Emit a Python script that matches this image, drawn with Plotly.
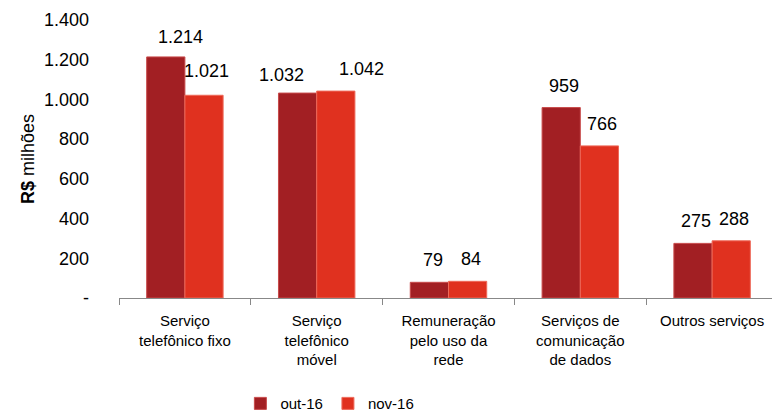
import plotly.graph_objects as go

categories = ["Serviço<br>telefônico fixo", "Serviço<br>telefônico<br>móvel",
              "Remuneração<br>pelo uso da<br>rede", "Serviços de<br>comunicação<br>de dados",
              "Outros serviços"]
out16 = [1214, 1032, 79, 959, 275]
nov16 = [1021, 1042, 84, 766, 288]
ytick_vals = [0, 200, 400, 600, 800, 1000, 1200, 1400]
ytick_text = ["-", "200", "400", "600", "800", "1.000", "1.200", "1.400"]

# label nudges (pixels) mimicking the reference's hand-placed data labels
out_dx = [15, -16, 3, 3, 3]
out_dy = [8, 6, 10, 10, 10]
nov_dx = [3, 26, 3, 3, 3]
nov_dy = [12, 10, 10, 10, 10]

font = dict(family="Liberation Sans, Arial, sans-serif", size=18, color="#000000")
catfont = dict(family="Liberation Sans, Arial, sans-serif", size=15, color="#000000")

fig = go.Figure()
fig.add_trace(go.Bar(name="out-16", x=categories, y=out16, marker=dict(color="#A21F23", line=dict(color="#C84A4A", width=1))))
fig.add_trace(go.Bar(name="nov-16", x=categories, y=nov16, marker=dict(color="#E0311F", line=dict(color="#EE6A5A", width=1))))

def fmt(v):
    return f"{v:,}".replace(",", ".")

for series, base, dxs, dys in ((out16, -19, out_dx, out_dy), (nov16, 19, nov_dx, nov_dy)):
    for c, v, dx, dy in zip(categories, series, dxs, dys):
        fig.add_annotation(x=c, y=v, text=fmt(v), showarrow=False, xanchor="center", yanchor="bottom",
                           xshift=base + dx, yshift=dy, font=font)

fig.update_layout(
    width=772, height=406,
    margin=dict(l=111, r=2, t=12, b=116, autoexpand=False),
    paper_bgcolor="white", plot_bgcolor="white",
    font=font,
    barmode="group", bargap=0.42, bargroupgap=0,
    showlegend=True,
    legend=dict(orientation="h", x=0.32, xanchor="center", y=-0.38, yanchor="middle",
                font=catfont, itemwidth=30, traceorder="normal"),
    xaxis=dict(showline=True, linecolor="#888888", linewidth=1, ticks="outside", tickson="boundaries",
               ticklen=6, tickcolor="#888888", tickfont=catfont, showgrid=False, ticklabelstandoff=9,
               automargin=False),
    yaxis=dict(range=[0, 1400], tickvals=ytick_vals, ticktext=ytick_text, showgrid=False,
               showline=False, ticks="", tickfont=font, ticklabelstandoff=29, automargin=False,
               title=dict(text="<b>R$</b> milhões", font=font, standoff=4)),
)
fig.write_html("out.html")
